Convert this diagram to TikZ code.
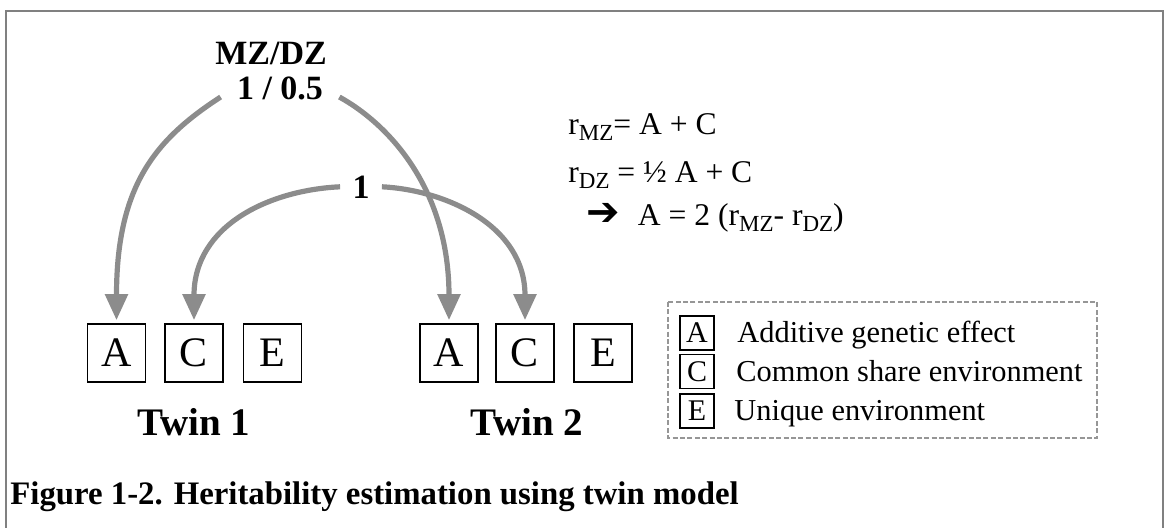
\documentclass[tikz,border=0pt]{standalone}
\usepackage{fontspec}
\setmainfont{Liberation Serif}
\newfontfamily\dejavu{DejaVu Sans}
\usetikzlibrary{arrows.meta}
\definecolor{arcgray}{RGB}{140,140,140}
\definecolor{framegray}{RGB}{128,128,128}
\definecolor{dashgray}{RGB}{150,150,150}
\newcommand\subt[1]{\raisebox{-0.45ex}{\fontsize{11.5}{11.5}\selectfont #1}}
\begin{document}
\begin{tikzpicture}[x=0.5pt,y=-0.5pt,
  letterbox/.style={draw, line width=0.8pt, minimum width=29pt, minimum height=29pt, inner sep=0pt, font=\fontsize{21}{22}\selectfont},
  legbox/.style={draw, line width=0.7pt, minimum width=17pt, minimum height=17pt, inner sep=0pt, font=\fontsize{15}{16}\selectfont},
  legtext/.style={anchor=base west, inner sep=0pt, font=\fontsize{15.2}{16}\selectfont},
  twin/.style={anchor=base, inner sep=0pt, font=\bfseries\fontsize{19.5}{20}\selectfont},
  eq/.style={anchor=base west, inner sep=0pt, font=\fontsize{15.8}{16}\selectfont},
  arc/.style={draw=arcgray, line width=2.6pt, -{Triangle[length=13pt,width=11pt]}, shorten >=1.5pt},
  lbl/.style={font=\bfseries\fontsize{17}{18}\selectfont, inner ysep=0pt}
]
\useasboundingbox (0,0) rectangle (1167,527);
\clip (0,0) rectangle (1167,527);
\draw[framegray, line width=1pt] (6,11) rectangle (1163,560);

% top labels
\node[lbl, anchor=base, inner xsep=0pt] (mz) at (271,64) {MZ/DZ};
\node[lbl, anchor=base, inner xsep=8pt] (ratio) at (280,99) {1 / 0.5};
\node[lbl, anchor=base, inner xsep=6pt] (one) at (361,198) {1};

% boxes
\node[letterbox] (A1) at (116.5,353) {A};
\node[letterbox] (C1) at (194,353) {C};
\node[letterbox] (E1) at (272.5,353) {E};
\node[letterbox] (A2) at (449,353) {A};
\node[letterbox] (C2) at (525,353) {C};
\node[letterbox] (E2) at (603,353) {E};

\node[twin] (t1) at (194,435) {Twin 1};
\node[twin] (t2) at (527,435) {Twin 2};

% arcs
\draw[arc] ([yshift=1pt]ratio.base west) .. controls (156,139) and (116.5,185) .. (A1.north);
\draw[arc] ([yshift=1pt]ratio.base east) .. controls (390,125) and (449,190) .. (A2.north);
\draw[arc] (one.west) .. controls (270,190) and (194,225) .. (C1.north);
\draw[arc] (one.east) .. controls (445,190) and (525,225) .. (C2.north);

% equations
\node[eq] (eq1) at (568,134) {r\subt{MZ}= A + C};
\node[eq] (eq2) at (568,182) {r\subt{DZ} = ½ A + C};
\node[eq] (eq3) at (586,225) {{\dejavu\bfseries\fontsize{20}{20}\selectfont ➔}\hspace{9pt}A = 2 (r\subt{MZ}- r\subt{DZ})};

% legend
\draw[dashgray, line width=0.6pt, dash pattern=on 2.5pt off 1.2pt] (668,302) rectangle (1097,438);
\node[legbox] (LA) at (697,333) {A};
\node[legbox] (LC) at (697,371.5) {C};
\node[legbox] (LE) at (697,411) {E};
\node[legtext] (tA) at (737,342) {Additive genetic effect};
\node[legtext] (tC) at (736,381) {Common share environment};
\node[legtext] (tE) at (734,420) {Unique environment};

% caption
\node[anchor=base west, inner sep=0pt, font=\bfseries\fontsize{16.4}{17}\selectfont] (cap) at (10,504) {Figure 1-2. Heritability estimation using twin model};
\end{tikzpicture}
\end{document}
